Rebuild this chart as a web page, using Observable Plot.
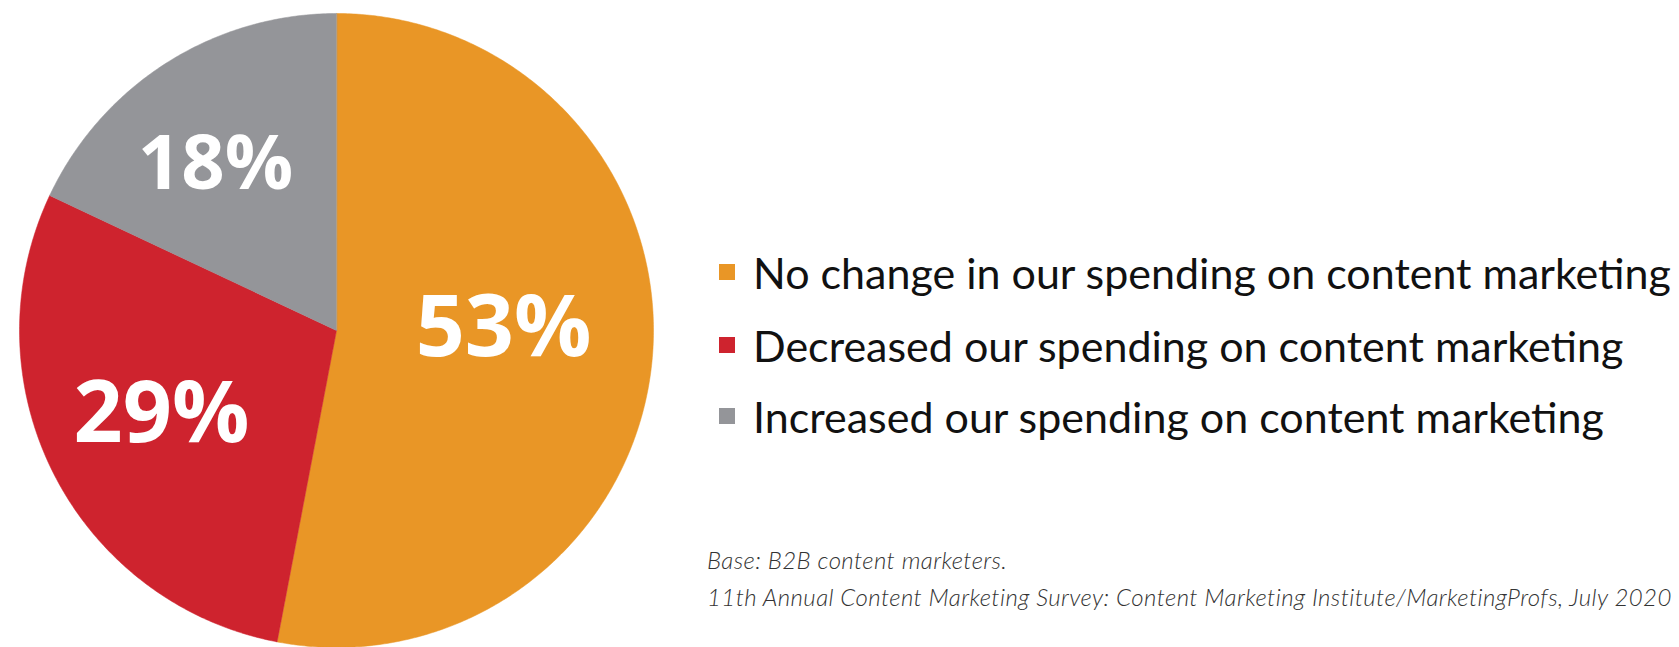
<!DOCTYPE html>
<html>
<head>
<meta charset="utf-8">
<script src="https://cdn.jsdelivr.net/npm/d3@7"></script>
<script src="https://cdn.jsdelivr.net/npm/@observablehq/plot@0.6"></script>
<style>
  html, body { margin: 0; padding: 0; background: #fff; overflow: hidden; }
  #wrap { position: relative; width: 1679px; height: 647px; }
  #chart { position: absolute; left: 0; top: 0; }
  #legend { position: absolute; left: 719px; top: 0; font-family: "Lato", sans-serif; font-size: 43px; color: #111; }
  .item { position: absolute; white-space: nowrap; display: flex; align-items: center; }
  .sw { width: 16px; height: 16px; margin-right: 18px; flex: none; }
  #caption { position: absolute; left: 707px; top: 541px; font-family: "Lato", sans-serif; font-style: italic; font-weight: 300; font-size: 24px; letter-spacing: 0.4px; color: #333; white-space: nowrap; line-height: 37px; }
</style>
</head>
<body>
<div id="wrap">
  <div id="chart"></div>
  <div id="legend"></div>
  <div id="caption"></div>
</div>
<script>
// ---- data ----
const categories = [
  "No change in our spending on content marketing",
  "Decreased our spending on content marketing",
  "Increased our spending on content marketing"
];
const values = [53, 29, 18];
const valueLabels = ["53%", "29%", "18%"];
const colors = ["#E99626", "#CE232E", "#949599"];
const captionLines = [
  "Base: B2B content marketers.",
  "11th Annual Content Marketing Survey: Content Marketing Institute/MarketingProfs, July 2020"
];

// ---- layout (label placement in unit-circle coordinates, font sizes) ----
const labelPos = [[0.527, 0.006], [-0.552, -0.265], [-0.382, 0.524]];
const labelSize = [86, 86, 76];

const pieGen = d3.pie().sort(null).value(d => d.value);
const rows = categories.map((c, i) => ({key: c, value: values[i], label: valueLabels[i], idx: i}));
const arcs = pieGen(rows);

const pts = [];
for (const a of arcs) {
  const key = a.data.key;
  pts.push({key, x: 0, y: 0});
  const n = Math.max(2, Math.ceil((a.endAngle - a.startAngle) / (Math.PI / 360)));
  for (let k = 0; k <= n; k++) {
    const t = a.startAngle + (a.endAngle - a.startAngle) * k / n;
    pts.push({key, x: Math.sin(t), y: Math.cos(t)});
  }
}
const labels = rows.map((r, i) => ({...r, x: labelPos[i][0], y: labelPos[i][1], size: labelSize[i]}));

const plot = Plot.plot({
  width: 680,
  height: 647,
  marginLeft: 19,
  marginRight: 27,
  marginTop: 13,
  marginBottom: 0,
  x: {domain: [-1, 1], axis: null},
  y: {domain: [-1, 1], axis: null},
  color: {domain: categories, range: colors},
  marks: [
    Plot.line(pts, {x: "x", y: "y", z: "key", fill: "key", stroke: "key", strokeWidth: 0.5, curve: "linear-closed"}),
    ...labels.map(l => Plot.text([l], {
      x: "x", y: "y", text: "label", fill: "white",
      fontSize: l.size, fontWeight: 700, fontFamily: "Open Sans",
      textAnchor: "middle", lineAnchor: "middle"
    }))
  ]
});
document.getElementById("chart").appendChild(plot);

// legend
const legend = document.getElementById("legend");
const legendTops = [272, 345, 416];
categories.forEach((c, i) => {
  const item = document.createElement("div");
  item.className = "item";
  item.style.top = (legendTops[i] - 30) + "px";
  item.style.height = "60px";
  const sw = document.createElement("span");
  sw.className = "sw";
  sw.style.background = colors[i];
  const tx = document.createElement("span");
  tx.textContent = c;
  item.appendChild(sw);
  item.appendChild(tx);
  legend.appendChild(item);
});

// caption
const cap = document.getElementById("caption");
captionLines.forEach(t => {
  const d = document.createElement("div");
  d.textContent = t;
  cap.appendChild(d);
});
</script>
</body>
</html>
